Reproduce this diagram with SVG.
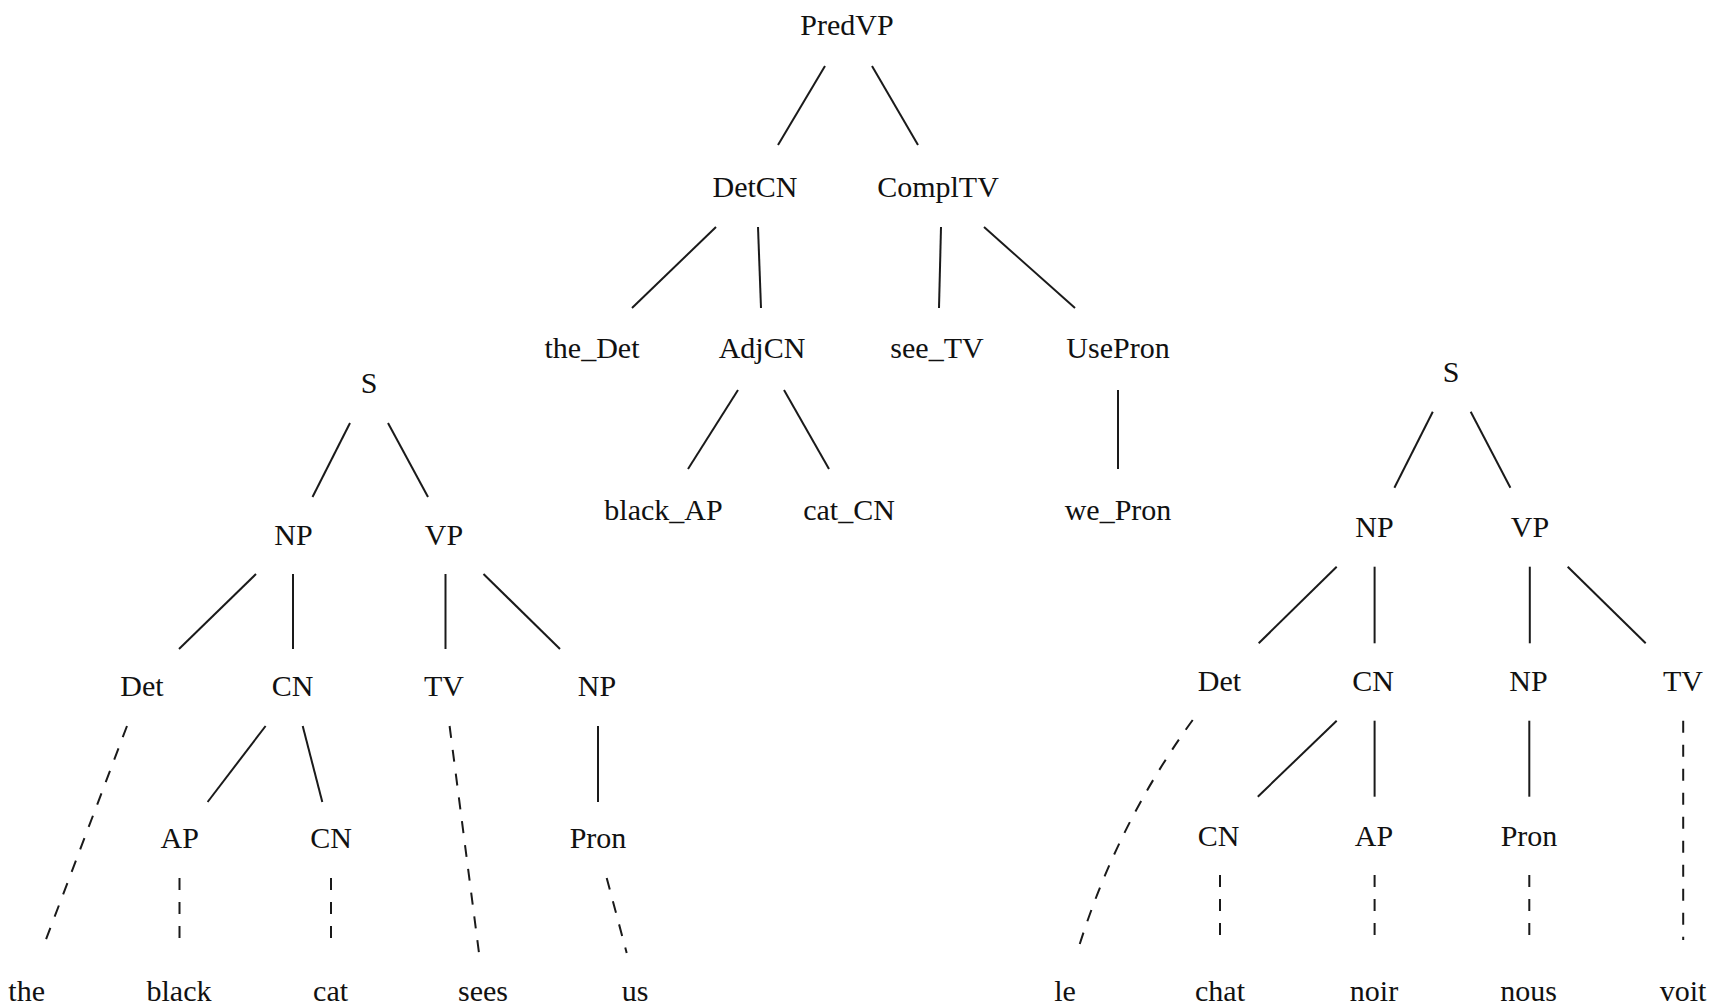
<svg xmlns="http://www.w3.org/2000/svg" width="1711" height="1006" viewBox="0 0 1711 1006">
  <style>
    text { font-family: "Liberation Serif", "Times New Roman", serif; font-size: 30px; fill: #111; text-anchor: middle; }
    .edge { stroke: #1a1a1a; stroke-width: 2; fill: none; }
    .leaf { stroke: #1a1a1a; stroke-width: 2; fill: none; stroke-dasharray: 12 12; }
  </style>
  <rect width="1711" height="1006" fill="#ffffff"/>

  <!-- connectors -->
  <g id="connectors">
    <!-- abstract tree -->
    <line class="edge" x1="825" y1="66" x2="778" y2="145"/>
    <line class="edge" x1="872" y1="66" x2="918" y2="145"/>
    <line class="edge" x1="716" y1="227" x2="632" y2="308"/>
    <line class="edge" x1="758" y1="227" x2="761" y2="308"/>
    <line class="edge" x1="941" y1="227" x2="939" y2="308"/>
    <line class="edge" x1="984" y1="227" x2="1075" y2="308"/>
    <line class="edge" x1="738" y1="390" x2="688" y2="469"/>
    <line class="edge" x1="784" y1="390" x2="829" y2="469"/>
    <line class="edge" x1="1118" y1="390" x2="1118" y2="469"/>

    <!-- English parse tree -->
    <line class="edge" x1="350" y1="423" x2="312.5" y2="497"/>
    <line class="edge" x1="388" y1="423" x2="428" y2="497"/>
    <line class="edge" x1="256" y1="574" x2="179" y2="649"/>
    <line class="edge" x1="293" y1="574" x2="293" y2="649"/>
    <line class="edge" x1="445.5" y1="574" x2="445.5" y2="649"/>
    <line class="edge" x1="483.5" y1="574" x2="560" y2="649"/>
    <line class="edge" x1="265.6" y1="726" x2="207.6" y2="802"/>
    <line class="edge" x1="302.7" y1="726" x2="322.3" y2="802"/>
    <line class="edge" x1="598" y1="726" x2="598" y2="802"/>
    <line class="leaf" x1="127" y1="726" x2="42" y2="950"/>
    <line class="leaf" x1="449.6" y1="726" x2="479" y2="953"/>
    <line class="leaf" x1="179.5" y1="878" x2="179.5" y2="942"/>
    <line class="leaf" x1="331" y1="878" x2="331" y2="942"/>
    <line class="leaf" x1="606.7" y1="878" x2="626.7" y2="953"/>

    <!-- French parse tree -->
    <line class="edge" x1="1432.8" y1="411.7" x2="1394.4" y2="487.7"/>
    <line class="edge" x1="1470.7" y1="411.7" x2="1510.4" y2="487.7"/>
    <line class="edge" x1="1336.7" y1="566.7" x2="1258.7" y2="643.3"/>
    <line class="edge" x1="1374.6" y1="566.7" x2="1374.6" y2="643.3"/>
    <line class="edge" x1="1529.8" y1="566.7" x2="1529.8" y2="643.3"/>
    <line class="edge" x1="1567.7" y1="566.7" x2="1645.7" y2="643.3"/>
    <line class="edge" x1="1336.7" y1="720.7" x2="1257.8" y2="796.7"/>
    <line class="edge" x1="1374.6" y1="720.7" x2="1374.6" y2="796.7"/>
    <line class="edge" x1="1529.3" y1="720.7" x2="1529.3" y2="796.7"/>
    <path class="leaf" d="M1192.7,720 Q1116,825.7 1077.7,950.7"/>
    <line class="leaf" x1="1683.2" y1="720.7" x2="1683.2" y2="940"/>
    <line class="leaf" x1="1220" y1="875" x2="1220" y2="940"/>
    <line class="leaf" x1="1374.6" y1="875" x2="1374.6" y2="940"/>
    <line class="leaf" x1="1529.3" y1="875" x2="1529.3" y2="940"/>
  </g>

  <!-- abstract tree nodes -->
  <g id="abs-PredVP"><text x="847" y="35">PredVP</text></g>
  <g id="abs-DetCN"><text x="755" y="197">DetCN</text></g>
  <g id="abs-ComplTV"><text x="938" y="197">ComplTV</text></g>
  <g id="abs-the_Det"><text x="592" y="358">the_Det</text></g>
  <g id="abs-AdjCN"><text x="762" y="358">AdjCN</text></g>
  <g id="abs-see_TV"><text x="937" y="358">see_TV</text></g>
  <g id="abs-UsePron"><text x="1118" y="358">UsePron</text></g>
  <g id="abs-black_AP"><text x="663.5" y="520">black_AP</text></g>
  <g id="abs-cat_CN"><text x="849" y="520">cat_CN</text></g>
  <g id="abs-we_Pron"><text x="1118" y="520">we_Pron</text></g>

  <!-- English parse tree nodes -->
  <g id="en-S"><text x="369" y="393">S</text></g>
  <g id="en-NP"><text x="293.5" y="545">NP</text></g>
  <g id="en-VP"><text x="444" y="545">VP</text></g>
  <g id="en-Det"><text x="142" y="696">Det</text></g>
  <g id="en-CN"><text x="292.5" y="696">CN</text></g>
  <g id="en-TV"><text x="444" y="696">TV</text></g>
  <g id="en-NP2"><text x="597" y="696">NP</text></g>
  <g id="en-AP"><text x="179.7" y="848">AP</text></g>
  <g id="en-CN2"><text x="331" y="848">CN</text></g>
  <g id="en-Pron"><text x="598" y="848">Pron</text></g>
  <g id="en-the"><text x="26.7" y="1001">the</text></g>
  <g id="en-black"><text x="179" y="1001">black</text></g>
  <g id="en-cat"><text x="330.6" y="1001">cat</text></g>
  <g id="en-sees"><text x="483" y="1001">sees</text></g>
  <g id="en-us"><text x="635" y="1001">us</text></g>

  <!-- French parse tree nodes -->
  <g id="fr-S"><text x="1451" y="382">S</text></g>
  <g id="fr-NP"><text x="1374.4" y="537">NP</text></g>
  <g id="fr-VP"><text x="1530" y="537">VP</text></g>
  <g id="fr-Det"><text x="1219.5" y="691">Det</text></g>
  <g id="fr-CN"><text x="1373" y="691">CN</text></g>
  <g id="fr-NP2"><text x="1528.5" y="691">NP</text></g>
  <g id="fr-TV"><text x="1683" y="691">TV</text></g>
  <g id="fr-CN2"><text x="1218.7" y="846">CN</text></g>
  <g id="fr-AP"><text x="1374" y="846">AP</text></g>
  <g id="fr-Pron"><text x="1529" y="846">Pron</text></g>
  <g id="fr-le"><text x="1065" y="1001">le</text></g>
  <g id="fr-chat"><text x="1220" y="1001">chat</text></g>
  <g id="fr-noir"><text x="1374" y="1001">noir</text></g>
  <g id="fr-nous"><text x="1528.6" y="1001">nous</text></g>
  <g id="fr-voit"><text x="1683" y="1001">voit</text></g>
</svg>
